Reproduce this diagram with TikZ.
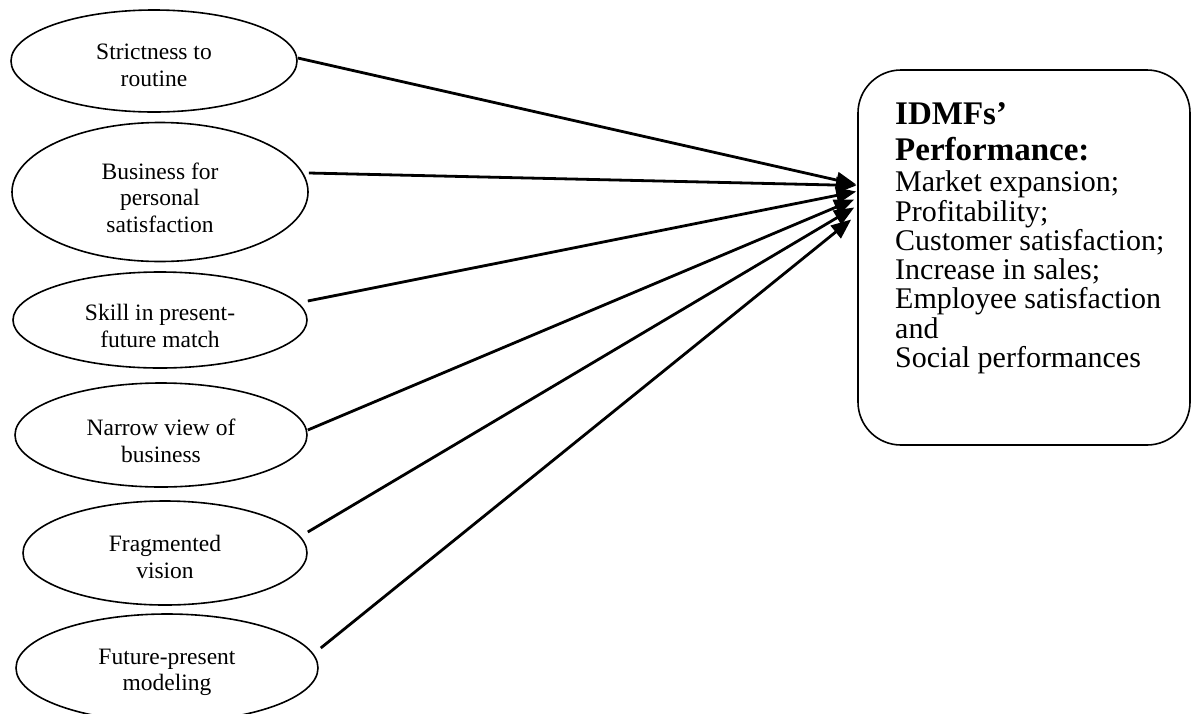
\documentclass[tikz,border=0pt]{standalone}
\usepackage{fontspec}
\setmainfont{Liberation Serif}
\usetikzlibrary{shapes.geometric,arrows.meta}

\begin{document}
\begin{tikzpicture}[x=1pt, y=-1pt, >={Triangle[length=20pt,width=16pt]},
		factor/.style={ellipse, draw, line width=1.6pt, inner sep=0pt, align=center, font=\fontsize{23.5}{26.5}\selectfont},
		link/.style={->, line width=2.8pt}]
		\useasboundingbox (0,0) rectangle (1192,713);
		% the six factors (left column); the strut pushes each text a little down
		\node[factor, minimum width=286pt, minimum height=102pt] (strict) at (154,61) {\rule{0pt}{24pt}Strictness to\\routine};
		\node[factor, minimum width=296pt, minimum height=139pt] (pers) at (160,192) {\rule{0pt}{28pt}Business for\\personal\\satisfaction};
		\node[factor, minimum width=294pt, minimum height=96pt] (skill) at (160,320) {\rule{0pt}{28pt}Skill in present-\\future match};
		\node[factor, minimum width=292pt, minimum height=104pt] (narrow) at (161,435) {\rule{0pt}{28pt}Narrow view of\\business};
		\node[factor, minimum width=284pt, minimum height=104pt] (frag) at (165,553) {\rule{0pt}{24pt}Fragmented\\vision};
		\node[factor, minimum width=302pt, minimum height=108pt] (future) at (167,668) {\rule{0pt}{24pt}Future-present\\modeling};
		% performance box (right)
		\node[draw, line width=1.6pt, rounded corners=43pt, minimum width=332pt, minimum height=375pt, inner sep=0pt] (perf) at (1024,257.5) {};
		\node[anchor=north west, align=left, inner sep=0pt, font=\fontsize{30}{29.3}\selectfont] (perftext) at (895,102)
			{{\fontsize{33}{35}\selectfont\bfseries IDMFs'}\\[7pt]
			 {\fontsize{33}{35}\selectfont\bfseries Performance:}\\[2pt]
			 Market expansion;\\
			 Profitability;\\
			 Customer satisfaction;\\
			 Increase in sales;\\
			 Employee satisfaction\\
			 and\\
			 Social performances};
		% arrows into the box
		\draw[link] ([yshift=3pt]strict.east) -- ([xshift=-1pt,yshift=73pt]perf.west);
		\draw[link] ([yshift=19pt]pers.east) -- ([xshift=-1pt,yshift=72pt]perf.west);
		\draw[link] ([yshift=19pt]skill.east) -- ([xshift=-1pt,yshift=66pt]perf.west);
		\draw[link] ([yshift=5pt]narrow.east) -- ([xshift=-3pt,yshift=58pt]perf.west);
		\draw[link] ([yshift=21pt]frag.east) -- ([xshift=-3pt,yshift=50pt]perf.west);
		\draw[link] ([xshift=2pt,yshift=20pt]future.east) -- ([xshift=-6pt,yshift=38pt]perf.west);
	\end{tikzpicture}
\end{document}
